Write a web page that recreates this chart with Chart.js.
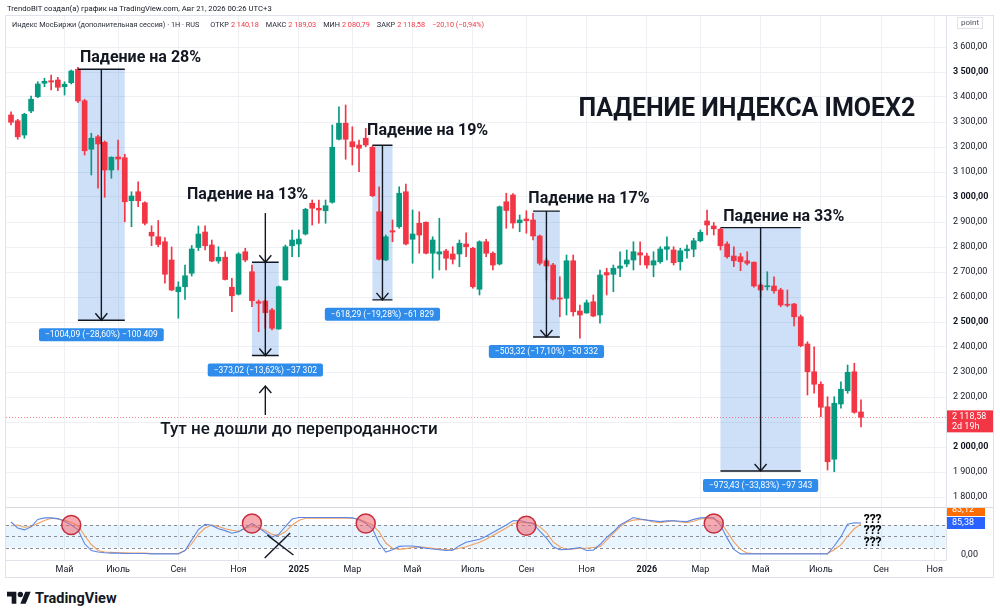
<!DOCTYPE html>
<html lang="ru">
<head>
<meta charset="utf-8">
<script src="https://cdn.jsdelivr.net/npm/chart.js@4.4.1/dist/chart.umd.min.js"></script>
<style>
html, body { margin: 0; padding: 0; background: #fff; }
#page { position: relative; width: 1000px; height: 616px; overflow: hidden; font-family: Roboto, sans-serif; color: #131722; }
#frame { position: absolute; left: 5px; top: 15px; width: 987px; height: 561px; border: 1px solid #e0e3eb; }
#sep { position: absolute; left: 6px; top: 507px; width: 987px; height: 1px; background: #d8dbe2; }
#main { position: absolute; left: 0; top: 0; }
#osc { position: absolute; left: 0; top: 508px; }
#credit { position: absolute; left: 7px; top: 4px; font-size: 7.7px; color: #131722; white-space: nowrap; }
#legend { position: absolute; left: 12px; top: 20px; font-size: 7.3px; color: #2a2e39; white-space: nowrap; }
#legend .k { margin-left: 7px; }
#legend .k:first-of-type { margin-left: 11px; }
#legend .v { color: #f23645; margin-left: 2px; }
#legend .c { color: #f23645; margin-left: 7px; }
#unit { position: absolute; left: 957px; top: 17px; font-size: 8px; color: #50535e; border: 1px solid #e0e3eb; padding: 0 3px; line-height: 10px; }
#brand { position: absolute; left: 7px; top: 589px; display: flex; align-items: center; gap: 4px; font-weight: bold; font-size: 14.5px; color: #131722; }
</style>
</head>
<body>
<div id="page">
  <div id="frame"></div>
  <canvas id="main" width="994" height="508"></canvas>
  <canvas id="osc" width="994" height="69"></canvas>
  <div id="sep"></div>
  <div id="credit">TrendoBIT создал(а) график на TradingView.com, Авг 21, 2026 00:26 UTC+3</div>
  <div id="legend"></div>
  <div id="unit">point</div>
  <div id="brand">
    <svg width="24" height="19" viewBox="0 0 36 28"><path fill="#131722" d="M14 22H7V11H0V4h14v18zM28 22h-8l7.5-18h8L28 22z"/><circle fill="#131722" cx="20" cy="8" r="4"/></svg>
    <span>TradingView</span>
  </div>
</div>
<script>
// weekly candles, first one starts on this Monday
const startDate = '2024-03-04';

const open = [3328,3305,3248,3344,3401,3455,3465,3468,3441,3457,
  3511,3385,3191,3241,3219,3108,3160,3157,2985,3021,
  2977,2859,2841,2821,2748,2621,2641,2695,2798,2860,
  2808,2744,2759,2639,2611,2781,2701,2581,2584,2548,
  2472,2668,2805,2812,2852,2975,2955,2945,2979,3231,
  3295,3221,3208,3235,3199,2941,2748,2865,2881,3021,
  2831,2895,2899,2775,2772,2784,2772,2772,2812,2795,
  2631,2821,2775,2732,2981,3008,2897,2912,2908,2844,
  2745,2728,2595,2595,2745,2544,2536,2581,2528,2698,
  2691,2715,2732,2748,2777,2764,2728,2741,2791,2788,
  2741,2785,2791,2825,2904,2884,2871,2812,2764,2761,
  2745,2739,2648,2641,2644,2628,2571,2572,2521,2412,
  2301,2251,2161,1951,2172,2225,2301,2140.18];
const high = [3341,3311,3335,3404,3461,3475,3488,3479,3461,3508,
  3519,3391,3255,3248,3224,3161,3228,3171,3021,3061,
  2981,2885,2906,2838,2800,2661,2728,2806,2884,2885,
  2828,2801,2781,2675,2777,2795,2728,2588,2588,2555,
  2644,2808,2868,2868,2955,2988,2988,2988,3288,3361,
  3368,3281,3228,3275,3204,3041,2848,2908,3041,3052,
  2948,2941,2901,2841,2915,2791,2801,2828,2857,2799,
  2825,2831,2781,2964,3015,3014,2928,2945,2935,2848,
  2755,2735,2681,2768,2768,2568,2588,2608,2708,2715,
  2728,2781,2788,2821,2821,2775,2781,2801,2841,2801,
  2795,2808,2835,2868,2948,2898,2875,2821,2801,2775,
  2781,2741,2655,2701,2681,2635,2628,2575,2528,2421,
  2401,2261,2201,2201,2261,2328,2335,2189.03];
const low = [3288,3231,3235,3337,3397,3441,3428,3425,3408,3452,
  3377,3168,3088,3035,2999,3075,3108,2901,2881,2961,
  2888,2805,2801,2655,2625,2515,2590,2684,2786,2788,
  2741,2735,2668,2541,2608,2741,2561,2461,2475,2468,
  2471,2668,2761,2761,2848,2888,2895,2895,2975,3228,
  3151,3128,3101,3201,3001,2748,2745,2821,2875,2808,
  2735,2775,2772,2675,2708,2708,2732,2721,2761,2635,
  2608,2761,2708,2728,2875,2875,2861,2855,2828,2728,
  2668,2588,2521,2528,2524,2435,2535,2521,2495,2608,
  2621,2681,2721,2708,2728,2715,2681,2735,2748,2728,
  2708,2755,2761,2821,2848,2848,2788,2755,2721,2705,
  2728,2639,2599,2628,2615,2561,2561,2484,2401,2208,
  2215,2121,1908,1901,2155,2215,2135,2080.79];
const close = [3299,3241,3331,3391,3452,3463,3460,3439,3451,3504,
  3384,3185,3235,3212,3108,3159,3152,2981,3004,2985,
  2895,2844,2810,2691,2628,2640,2685,2792,2852,2805,
  2744,2759,2670,2605,2772,2748,2585,2575,2537,2475,
  2641,2801,2828,2832,2951,2955,2948,2965,3199,3295,
  3231,3201,3195,3208,3005,2751,2841,2860,3015,2812,
  2852,2848,2775,2828,2781,2755,2751,2815,2801,2641,
  2821,2775,2728,2961,2946,2896,2908,2905,2844,2735,
  2724,2592,2592,2745,2541,2528,2577,2524,2688,2688,
  2715,2724,2748,2781,2768,2728,2745,2792,2801,2737,
  2785,2792,2825,2859,2888,2873,2805,2761,2745,2741,
  2735,2644,2628,2644,2625,2568,2567,2521,2405,2301,
  2251,2159,1941,2175,2231,2299,2138.68,2118.58];

// stochastic RSI (%K blue, %D orange)
const stochK = [88,72,67,75,95,99,99,97,90,80,
  68,30,12,8,6,5,5,4,4,4,
  4,3,3,3,3,3,12,40,68,82,
  79,70,65,58,62,72,84,73,60,48,
  55,76,96,100,100,100,100,100,100,100,
  100,99,94,85,70,32,8,14,23,24,
  24,21,18,16,14,12,13,25,34,38,
  42,50,60,70,80,91,92,87,84,64,
  45,22,14,15,17,20,12,13,28,47,
  62,80,90,100,96,93,91,89,91,91,
  90,89,95,99,100,99,80,45,15,3,
  3,3,3,3,3,3,3,3,3,3,
  3,3,3,24,49,82,86,85.38];
const stochD = [78,80,74,76,84,92,98,96,93,87,
  78,52,28,12,8,7,6,6,5,5,
  5,4,4,4,4,4,12,30,55,72,
  80,76,70,66,63,72,76,72,66,55,
  52,62,80,92,98,98,98,98,98,98,
  98,98,96,88,80,62,32,18,15,17,
  20,22,20,18,16,14,14,18,22,28,
  34,42,52,62,72,84,86,86,86,75,
  60,35,22,15,16,18,18,20,22,40,
  58,75,88,93,95,93,88,86,89,92,
  88,86,90,96,98,96,88,62,35,15,
  5,4,4,4,4,4,4,4,4,4,
  4,4,4,14,27,50,70,83.12];

const priceTicks = [3600,3500,3400,3300,3200,3100,3000,2900,2800,2700,2600,2500,2400,2300,2200,2100,2000,1900,1800];
const tickDates = ['2024-04-29','2024-06-24','2024-08-26','2024-10-28','2024-12-30','2025-02-24','2025-04-28','2025-06-30',
  '2025-08-25','2025-10-27','2025-12-29','2026-02-23','2026-04-27','2026-06-29','2026-08-31','2026-10-26'];
const tickLabels = ['Май','Июль','Сен','Ноя','2025','Мар','Май','Июль','Сен','Ноя','2026','Мар','Май','Июль','Сен','Ноя'];

// drawn price-range measurements (candle index from/to, prices)
const dropFrom = [10, 36, 54, 78, 106];
const dropTo = [17, 40, 57, 82, 118];
const dropTop = [3510.80, 2738.80, 3206.90, 2943.39, 2877.40];
const dropBottom = [2506.71, 2365.78, 2588.61, 2440.07, 1903.97];
const dropArrowStart = [null, 2936, null, null, null];
const dropTitles = ['Падение на 28%', 'Падение на 13%', 'Падение на 19%', 'Падение на 17%', 'Падение на 33%'];
const titleIdx = [10.3, 26.3, 53.2, 77.3, 106.4];
const titlePrice = [3556, 3008, 3264, 2992, 2920];

const headline = 'ПАДЕНИЕ ИНДЕКСА IMOEX2';
const headlineAt = [84.8, 3348];
const note = 'Тут не дошли до перепроданности';
const noteAt = [22.3, 2068];
const noteArrow = [38, 2128, 2244];

// oscillator marks
const circleIdx = [9, 36, 53, 77, 105];
const circleVal = [80, 84, 84, 78, 84];
const crossIdx = [[37.9, 41.7], [38.3, 42.2]];
const crossVal = [[-8, 59], [53, 0]];
const askIdx = 127.4;
const askVal = [93, 63, 32];

const UP = '#089981', DOWN = '#f23645';
const GRID = '#eef0f4';
const INK = '#131722';
const BOX_FILL = 'rgba(45,125,220,0.24)';
const LABEL_BLUE = '#2f8ceb';

const X_MIN = -5.23, X_MAX = 977.9;
const t0 = Date.parse(startDate);
const dayOf = s => (Date.parse(s) - t0) / 864e5;
const idxX = i => i * 7;

function fmt(v, sep = ' ') {
    const [a, b] = Math.abs(v).toFixed(2).split('.');
    return (v < 0 ? '−' : '') + a.replace(/\B(?=(\d{3})+(?!\d))/g, sep) + ',' + b;
}
function fmtInt(v) {
    return (v < 0 ? '−' : '') + String(Math.abs(v)).replace(/\B(?=(\d{3})+(?!\d))/g, ' ');
}
// keep the tick labels from pushing the plot area inwards
function noPad(s, w) {
    s.width = w;
    s.paddingTop = 0;
    s.paddingBottom = 0;
}

// legend line built from the last candle
const n = close.length - 1;
const chg = close[n] - close[n - 1];
const chgPct = chg / close[n - 1] * 100;
const ohlcNames = ['ОТКР', 'МАКС', 'МИН', 'ЗАКР'];
const ohlcLast = [open[n], high[n], low[n], close[n]];
document.getElementById('legend').innerHTML =
    'Индекс МосБиржи (дополнительная сессия) · 1Н · RUS' +
    ohlcNames.map((k, i) => '<span class="k">' + k + '</span><span class="v">' + fmt(ohlcLast[i]) + '</span>').join('') +
    '<span class="c">' + fmt(chg) + ' (' + fmt(chgPct) + '%)</span>';

const candleColor = close.map((c, i) => c >= open[i] ? UP : DOWN);

function arrowHead(ctx, x, y, dir) {
    ctx.beginPath();
    ctx.moveTo(x - 6, y - 7 * dir);
    ctx.lineTo(x, y);
    ctx.lineTo(x + 6, y - 7 * dir);
    ctx.stroke();
}

const drawings = {
    id: 'drawings',
    beforeDatasetsDraw(chart) {
        const { ctx, chartArea: a, scales: { x, y } } = chart;
        ctx.save();
        ctx.fillStyle = BOX_FILL;
        dropFrom.forEach((f, k) => {
            const x0 = x.getPixelForValue(idxX(f)), x1 = x.getPixelForValue(idxX(dropTo[k]));
            const y0 = y.getPixelForValue(dropTop[k]), y1 = y.getPixelForValue(dropBottom[k]);
            ctx.fillRect(x0, y0, x1 - x0, y1 - y0);
        });
        const py = Math.round(y.getPixelForValue(close[n])) + 0.5;
        ctx.strokeStyle = 'rgba(242,54,69,0.6)';
        ctx.lineWidth = 1;
        ctx.setLineDash([1, 2]);
        ctx.beginPath();
        ctx.moveTo(a.left, py);
        ctx.lineTo(a.right, py);
        ctx.stroke();
        ctx.restore();
    },
    afterDatasetsDraw(chart) {
        const { ctx, scales: { x, y } } = chart;
        ctx.save();
        ctx.strokeStyle = INK;
        ctx.lineWidth = 1.4;
        dropFrom.forEach((f, k) => {
            const x0 = x.getPixelForValue(idxX(f)), x1 = x.getPixelForValue(idxX(dropTo[k]));
            const xm = (x0 + x1) / 2;
            const y0 = y.getPixelForValue(dropTop[k]), y1 = y.getPixelForValue(dropBottom[k]);
            const ys = dropArrowStart[k] == null ? y0 : y.getPixelForValue(dropArrowStart[k]);
            ctx.beginPath();
            ctx.moveTo(x0, y0); ctx.lineTo(x1, y0);
            ctx.moveTo(x0, y1); ctx.lineTo(x1, y1);
            ctx.moveTo(xm, ys); ctx.lineTo(xm, y1);
            ctx.stroke();
            arrowHead(ctx, xm, y1, 1);
            if (dropArrowStart[k] != null) arrowHead(ctx, xm, y0, 1);

            // measurement label
            const diff = dropBottom[k] - dropTop[k];
            const txt = fmt(diff, '') + ' (' + fmt(diff / dropTop[k] * 100) + '%) ' + fmtInt(Math.round(diff * 100));
            ctx.font = '8.5px Roboto';
            const w = ctx.measureText(txt).width + 12;
            ctx.fillStyle = LABEL_BLUE;
            ctx.beginPath();
            ctx.roundRect(xm - w / 2, y1 + 8, w, 13, 2);
            ctx.fill();
            ctx.fillStyle = '#fff';
            ctx.textAlign = 'center';
            ctx.textBaseline = 'middle';
            ctx.fillText(txt, xm, y1 + 15);
        });

        ctx.fillStyle = INK;
        ctx.textAlign = 'left';
        ctx.textBaseline = 'middle';
        ctx.font = 'bold 16px Roboto';
        dropTitles.forEach((t, k) => {
            ctx.fillText(t, x.getPixelForValue(idxX(titleIdx[k])), y.getPixelForValue(titlePrice[k]));
        });
        ctx.font = 'bold 25px Roboto';
        ctx.fillText(headline, x.getPixelForValue(idxX(headlineAt[0])), y.getPixelForValue(headlineAt[1]));
        ctx.font = '500 17px Roboto';
        ctx.fillText(note, x.getPixelForValue(idxX(noteAt[0])), y.getPixelForValue(noteAt[1]));

        const ax = x.getPixelForValue(idxX(noteArrow[0]));
        const ya = y.getPixelForValue(noteArrow[1]), yb = y.getPixelForValue(noteArrow[2]);
        ctx.beginPath();
        ctx.moveTo(ax, ya); ctx.lineTo(ax, yb);
        ctx.stroke();
        arrowHead(ctx, ax, yb, -1);
        ctx.restore();
    },
    afterDraw(chart) {
        const { ctx, chartArea: a, scales: { y } } = chart;
        const py = y.getPixelForValue(close[n]);
        ctx.save();
        ctx.fillStyle = DOWN;
        ctx.fillRect(a.right + 1, py - 7, 46, 22);
        ctx.fillStyle = '#fff';
        ctx.font = '9px Roboto';
        ctx.textBaseline = 'middle';
        ctx.fillText(fmt(close[n]), a.right + 6, py - 1);
        ctx.fillText('2d 19h', a.right + 6, py + 9);
        ctx.restore();
    }
};

new Chart(document.getElementById('main'), {
    type: 'bar',
    data: {
        datasets: [
            { data: close.map((c, i) => ({ x: idxX(i), y: [open[i], c] })), backgroundColor: candleColor, barThickness: 5, grouped: false, minBarLength: 1 },
            { data: close.map((c, i) => ({ x: idxX(i), y: [low[i], high[i]] })), backgroundColor: candleColor, barThickness: 1, grouped: false }
        ]
    },
    options: {
        responsive: false,
        animation: false,
        layout: { padding: { left: 6, top: 16, right: 0, bottom: 1 } },
        plugins: { legend: { display: false }, tooltip: { enabled: false } },
        scales: {
            x: {
                type: 'linear', min: X_MIN, max: X_MAX, offset: false,
                afterBuildTicks: s => { s.ticks = tickDates.map(d => ({ value: dayOf(d) })); },
                afterFit: s => { s.height = 0; },
                ticks: { display: false },
                grid: { color: GRID, drawTicks: false, offset: false },
                border: { display: false }
            },
            y: {
                position: 'right', min: 1760, max: 3724,
                afterBuildTicks: s => { s.ticks = priceTicks.map(v => ({ value: v })); },
                afterFit: s => noPad(s, 48),
                ticks: {
                    padding: 7, crossAlign: 'near', color: INK,
                    font: c => ({ family: 'Roboto', size: 9, weight: c.tick && c.tick.value % 500 === 0 ? 'bold' : 'normal' }),
                    callback: v => fmt(v)
                },
                grid: { color: GRID, drawTicks: false },
                border: { color: '#e0e3eb' }
            }
        }
    },
    plugins: [drawings]
});

const oscMarks = {
    id: 'oscMarks',
    beforeDatasetsDraw(chart) {
        const { ctx, chartArea: a, scales: { y } } = chart;
        const y80 = y.getPixelForValue(80), y20 = y.getPixelForValue(20);
        ctx.save();
        ctx.fillStyle = 'rgba(33,150,243,0.1)';
        ctx.fillRect(a.left, y80, a.right - a.left, y20 - y80);
        ctx.strokeStyle = '#8a8d97';
        ctx.lineWidth = 1;
        ctx.setLineDash([3, 3]);
        [80, 50, 20].forEach(v => {
            const py = Math.round(y.getPixelForValue(v)) + 0.5;
            ctx.beginPath();
            ctx.moveTo(a.left, py);
            ctx.lineTo(a.right, py);
            ctx.stroke();
        });
        ctx.restore();
    },
    afterDatasetsDraw(chart) {
        const { ctx, scales: { x, y } } = chart;
        ctx.save();
        ctx.strokeStyle = INK;
        ctx.lineWidth = 1.4;
        crossIdx.forEach((p, k) => {
            ctx.beginPath();
            ctx.moveTo(x.getPixelForValue(idxX(p[0])), y.getPixelForValue(crossVal[k][0]));
            ctx.lineTo(x.getPixelForValue(idxX(p[1])), y.getPixelForValue(crossVal[k][1]));
            ctx.stroke();
        });
        ctx.fillStyle = '#000';
        ctx.font = 'bold 12px Roboto';
        ctx.textBaseline = 'middle';
        askVal.forEach(v => ctx.fillText('???', x.getPixelForValue(idxX(askIdx)), y.getPixelForValue(v)));
        ctx.restore();
    },
    afterDraw(chart) {
        const { ctx, chartArea: a, scales: { y } } = chart;
        const pk = y.getPixelForValue(stochK[n]);
        ctx.save();
        ctx.font = '9px Roboto';
        ctx.textBaseline = 'middle';
        ctx.fillStyle = '#ff6d00';
        ctx.fillRect(a.right + 1, pk - 19, 38, 12);
        ctx.fillStyle = '#fff';
        ctx.fillText(fmt(stochD[n]), a.right + 6, pk - 13);
        ctx.fillStyle = '#2962ff';
        ctx.fillRect(a.right + 1, pk - 6, 38, 12);
        ctx.fillStyle = '#fff';
        ctx.fillText(fmt(stochK[n]), a.right + 6, pk);
        ctx.restore();
    }
};

new Chart(document.getElementById('osc'), {
    type: 'line',
    data: {
        datasets: [
            {
                type: 'scatter', data: circleIdx.map((c, k) => ({ x: idxX(c), y: circleVal[k] })),
                pointRadius: 9.5, pointBackgroundColor: 'rgba(240,100,112,0.55)', pointBorderColor: '#c52f3d', pointBorderWidth: 1.5
            },
            { data: stochK.map((v, i) => ({ x: idxX(i), y: v })), borderColor: '#5d87e3', borderWidth: 1.1, pointRadius: 0, tension: 0 },
            { data: stochD.map((v, i) => ({ x: idxX(i), y: v })), borderColor: '#f0a060', borderWidth: 1.1, pointRadius: 0, tension: 0 }
        ]
    },
    options: {
        responsive: false,
        animation: false,
        layout: { padding: { left: 6, top: 1, right: 0, bottom: 0 }, autoPadding: false },
        plugins: { legend: { display: false }, tooltip: { enabled: false } },
        scales: {
            x: {
                type: 'linear', min: X_MIN, max: X_MAX,
                afterBuildTicks: s => { s.ticks = tickDates.map(d => ({ value: dayOf(d) })); },
                afterFit: s => { s.height = 17; s.paddingLeft = 0; s.paddingRight = 0; },
                ticks: {
                    autoSkip: false, maxRotation: 0, padding: 4, color: INK,
                    font: c => ({ family: 'Roboto', size: 9, weight: /^\d+$/.test(tickLabels[c.index]) ? 'bold' : 'normal' }),
                    callback: (v, i) => tickLabels[i]
                },
                grid: { color: GRID, drawTicks: false },
                border: { color: '#e0e3eb' }
            },
            y: {
                position: 'right', min: -13.3, max: 122.7,
                afterBuildTicks: s => { s.ticks = [{ value: 0 }]; },
                afterFit: s => noPad(s, 48),
                ticks: { padding: 7, crossAlign: 'near', color: INK, font: { family: 'Roboto', size: 9 }, callback: v => fmt(v) },
                grid: { display: false },
                border: { color: '#e0e3eb' }
            }
        }
    },
    plugins: [oscMarks]
});
</script>
</body>
</html>
